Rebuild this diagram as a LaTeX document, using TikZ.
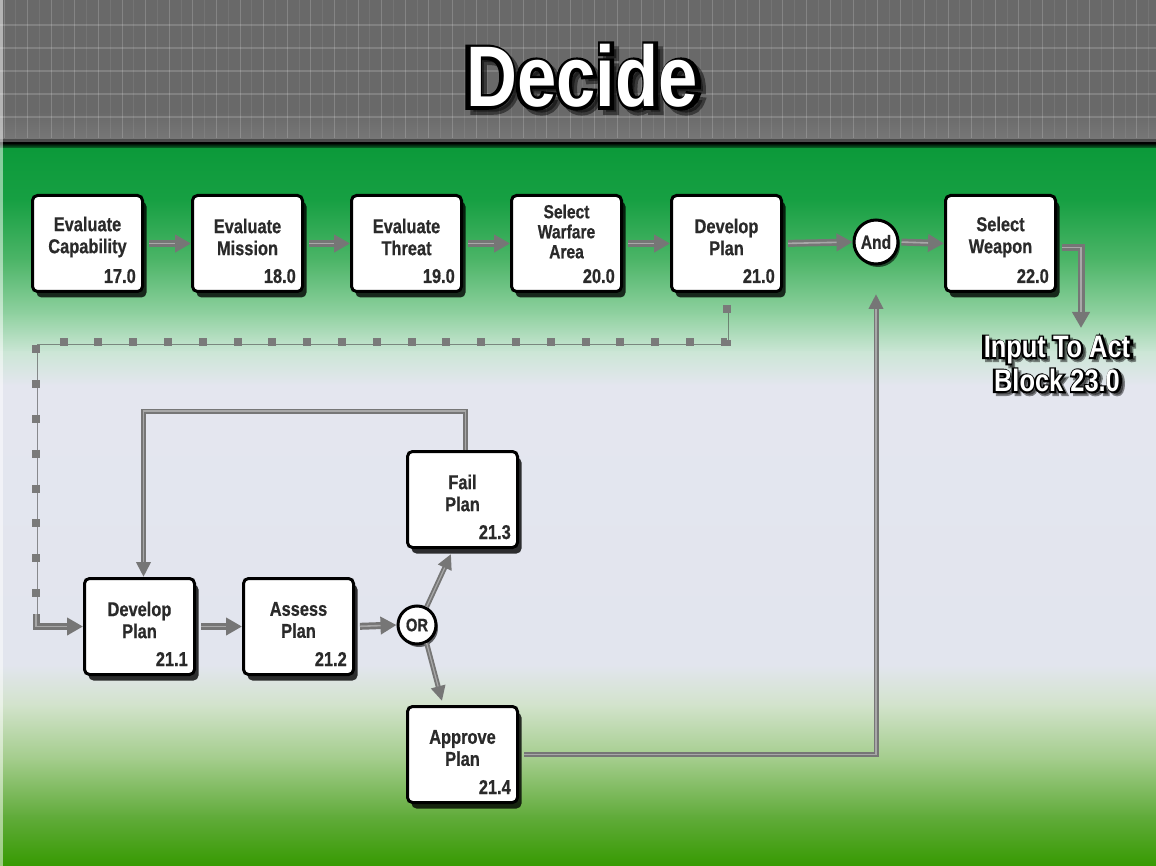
\documentclass[tikz,border=0pt]{standalone}
\usepackage{fontspec}
\newfontfamily\cnd{Liberation Sans}[FakeStretch=0.82]
\newfontfamily\cndheavy{Liberation Sans}[FakeStretch=0.82, FakeBold=0.6]
\newfontfamily\rimtitle{Liberation Sans}[FakeStretch=0.84, FakeBold=7]
\newfontfamily\rimact{Liberation Sans}[FakeStretch=0.84, FakeBold=10]
\usetikzlibrary{arrows.meta,shadows,calc}

\definecolor{hdrgray}{HTML}{696969}
\definecolor{hdrlow}{HTML}{777777}
\definecolor{arrgray}{HTML}{767676}
\definecolor{arrhl}{HTML}{A8A8A8}
\definecolor{dotgray}{HTML}{7A7A7A}
\definecolor{txtgray}{HTML}{2A2A2A}
\definecolor{g0}{HTML}{0C9A3A}
\definecolor{g1}{HTML}{17A043}
\definecolor{g2}{HTML}{4DB568}
\definecolor{g3}{HTML}{92D2A2}
\definecolor{g4}{HTML}{CCE6D6}
\definecolor{g5}{HTML}{E4E6EF}
\definecolor{g6}{HTML}{E2E5EE}
\definecolor{g7}{HTML}{D2E3CB}
\definecolor{g8}{HTML}{A2CC8A}
\definecolor{g9}{HTML}{62AC3C}
\definecolor{g10}{HTML}{379A02}

\newcommand\boxfont{\cndheavy\bfseries\fontsize{20}{22}\selectfont}

% white lettering on a heavier dark rim, with a drop shadow
\newcommand\outlinetext[6]{%
  \node[font=#4, align=center, text=black, opacity=.45] (#1-s) at ($(#2)+(#6)$) {#5};
  \node[font=#4, align=center, text=black] (#1-r) at (#2) {#5};
  \node[font=#3, align=center, text=white] (#1) at (#2) {#5};
}

% process block: name, top-left x, top-left y, caption, number, caption options
\newcommand\procbox[6]{%
  \node[pbox] (#1) at (#2,#3) {};
  \node[boxtxt,#6] (#1-t) at (#1.center) {#4};
  \node[boxnum] (#1-n) at ([xshift=-8pt,yshift=10pt]#1.south east) {#5};
}

\begin{document}
\begin{tikzpicture}[x=1pt,y=-1pt,
  pbox/.style={draw=black, line width=3pt, fill=white, rounded corners=5pt,
    minimum width=110pt, minimum height=96pt, anchor=north west, inner sep=0pt,
    drop shadow={shadow xshift=4pt, shadow yshift=-6pt, fill=black, opacity=.8}},
  boxtxt/.style={font=\boxfont, align=center, text=txtgray, inner sep=0pt, yshift=6.5pt},
  boxnum/.style={font=\boxfont, text=txtgray, inner sep=0pt, anchor=base east},
  gate/.style={circle, draw=black, line width=3pt, fill=white, inner sep=0pt, text=txtgray,
    drop shadow={shadow xshift=2pt, shadow yshift=-3pt, fill=black, opacity=.6}},
  flow/.style={draw=arrgray, line width=7pt, -{Triangle[length=16pt,width=17pt]},
    postaction={draw=arrhl, line width=1.6pt, shorten >=16pt, -}},
  flowthin/.style={draw=arrgray, line width=5pt, -{Triangle[length=15pt,width=14pt]},
    postaction={draw=arrhl, line width=1.2pt, shorten >=15pt, -}},
  dots/.style={draw=dotgray, line width=8pt, dash pattern=on 8pt off 26.8pt,
    preaction={draw=black!70, opacity=.6, transform canvas={xshift=1.5pt,yshift=-2pt}}}
]
\useasboundingbox (0,0) rectangle (1156,866);

% ---- header band with grid ----
\fill[hdrgray] (0,0) rectangle (1156,142);
\shade[top color=hdrgray, bottom color=hdrlow] (0,112) rectangle (1156,140);
\foreach \i in {0,...,97} {
  \pgfmathsetmacro\xx{4+\i*11.8}
  \pgfmathsetmacro\op{mod(\i,2)==0 ? 0.18 : 0.08}
  \draw[white, opacity=\op, line width=1pt] (\xx,0) -- (\xx,138);
}
\foreach \yy in {25,48,71,94,117}
  \draw[white, opacity=.16, line width=1.2pt] (0,\yy) -- (1156,\yy);
\fill[black!70] (0,139) rectangle (1156,143);
\shade[top color=black, bottom color=g0] (0,143) rectangle (1156,150);

% ---- body background ----
\shade[top color=g0, bottom color=g1] (0,149) rectangle (1156,201);
\shade[top color=g1, bottom color=g2] (0,200) rectangle (1156,261);
\shade[top color=g2, bottom color=g3] (0,260) rectangle (1156,316);
\shade[top color=g3, bottom color=g4] (0,315) rectangle (1156,353);
\shade[top color=g4, bottom color=g5] (0,352) rectangle (1156,386);
\shade[top color=g5, bottom color=g6] (0,385) rectangle (1156,666);
\shade[top color=g6, bottom color=g7] (0,665) rectangle (1156,706);
\shade[top color=g7, bottom color=g8] (0,705) rectangle (1156,761);
\shade[top color=g8, bottom color=g9] (0,760) rectangle (1156,816);
\shade[top color=g9, bottom color=g10] (0,815) rectangle (1156,866);
\fill[white, opacity=.5] (0,0) rectangle (3,866);

% ---- title ----
\outlinetext{title}{582,76}{\cnd\bfseries\fontsize{86}{90}\selectfont}{\rimtitle\bfseries\fontsize{86}{90}\selectfont}{Decide}{5,5}

% ---- top row ----
\procbox{ec}{31}{194}{Evaluate\\Capability}{17.0}{}
\procbox{em}{191}{194}{Evaluate\\Mission}{18.0}{}
\procbox{et}{350}{194}{Evaluate\\Threat}{19.0}{}
\procbox{sa}{510}{194}{Select\\Warfare\\Area}{20.0}{font=\cndheavy\bfseries\fontsize{19}{20}\selectfont, yshift=5.5pt}
\procbox{dp}{670}{194}{Develop\\Plan}{21.0}{}
\procbox{sw}{944}{194}{Select\\Weapon}{22.0}{}
\node[gate, minimum size=44pt, font=\cndheavy\bfseries\fontsize{19}{20}\selectfont] (and) at (876,242) {And};

\draw[flow, shorten <=5pt] (ec.east) -- (em.west);
\draw[flow, shorten <=5pt] (em.east) -- (et.west);
\draw[flow, shorten <=5pt] (et.east) -- (sa.west);
\draw[flow, shorten <=5pt] (sa.east) -- (dp.west);
\draw[flow, shorten <=5pt] (dp.east) -- (and.west);
\draw[flow, shorten <=2pt] (and.east) -- (sw.west);

\coordinate (outtip) at (1081,328);
\draw[flow, shorten <=5pt] ([yshift=-4pt]sw.east) -| (outtip);
\outlinetext{act}{1057,364}{\cnd\bfseries\fontsize{31}{34}\selectfont}{\rimact\bfseries\fontsize{31}{34}\selectfont}{Input To Act\\Block 23.0}{3,3}

% ---- plan development detail ----
\procbox{d1}{83}{577}{Develop\\Plan}{21.1}{}
\procbox{d2}{242}{577}{Assess\\Plan}{21.2}{}
\procbox{d3}{406}{450}{Fail\\Plan}{21.3}{}
\procbox{d4}{406}{705}{Approve\\Plan}{21.4}{}
\node[gate, minimum size=38pt, font=\cndheavy\bfseries\fontsize{18}{19}\selectfont] (or) at (417,625) {OR};

% dotted route from the plan block down to its breakdown
\coordinate (dA) at ([yshift=-12pt]dp.south);
\coordinate (dB) at (36,342);
\coordinate (dC) at (36,614);
\draw[dots] (dA) |- (dB) -- (dC);
\draw[flow] (dC) |- (d1.west);

\draw[flow, shorten <=5pt] (d1.east) -- (d2.west);
\draw[flow, shorten <=5pt] (d2.east) -- (or.west);

\coordinate (failtip) at (451,554);
\coordinate (apprtip) at (442,701);
\draw[flowthin] (or.62) -- (failtip);
\draw[flowthin] (or.-62) -- (apprtip);

% rework loop back to plan development
\draw[flowthin] ([xshift=3pt]d3.north) -- ++(0,-39) -| ([xshift=4pt]d1.north);

% approved plan feeds the And gate
\coordinate (andtip) at (876,294);
\draw[flowthin, shorten <=5pt] (d4.east) -| (andtip);

\end{tikzpicture}
\end{document}
